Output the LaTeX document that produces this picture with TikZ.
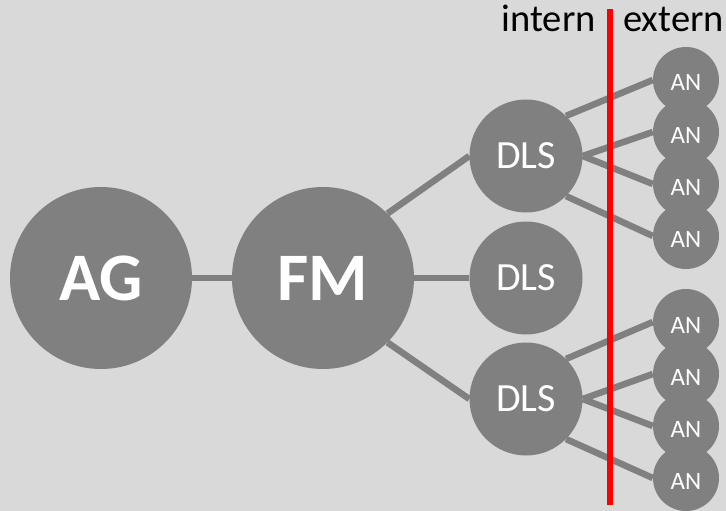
\documentclass[tikz,border=0pt]{standalone}
\usepackage{fontspec}
\setmainfont{Carlito}
\usetikzlibrary{backgrounds}
\definecolor{bgcol}{HTML}{D9D9D9}
\definecolor{nodecol}{HTML}{808080}
\tikzset{
  unit/.style={circle, fill=nodecol, draw=none, inner sep=0pt, text=white},
  agnode/.style={unit, minimum size=182pt, font=\fontsize{68}{70}\selectfont\bfseries},
  dlsnode/.style={unit, minimum size=113pt, font=\fontsize{40}{42}\selectfont},
  annode/.style={unit, minimum size=66pt, font=\fontsize{25}{27}\selectfont, text height=22pt, text depth=0pt},
  link/.style={draw=nodecol, line width=6.5pt},
  label/.style={inner sep=0pt, font=\fontsize{38.5}{40}\selectfont, text=black},
}
\begin{document}
\begin{tikzpicture}[x=1pt, y=-1pt]
  \useasboundingbox (0,0) rectangle (726,511);

  % main chain
  \node[agnode] (ag) at (101,278) {AG};
  \node[agnode] (fm) at (323,278) {FM};

  % distribution level
  \node[dlsnode] (d1) at (526,156) {DLS};
  \node[dlsnode] (d2) at (526,278) {DLS};
  \node[dlsnode] (d3) at (526,399) {DLS};

  % access nodes, upper group
  \node[annode] (a1) at (686,80) {AN};
  \node[annode] (a2) at (686,132) {AN};
  \node[annode] (a3) at (686,184) {AN};
  \node[annode] (a4) at (686,236) {AN};
  % access nodes, lower group
  \node[annode] (b1) at (686,322) {AN};
  \node[annode] (b2) at (686,374) {AN};
  \node[annode] (b3) at (686,426) {AN};
  \node[annode] (b4) at (686,478) {AN};

  \begin{scope}[on background layer]
    \fill[bgcol] (0,0) rectangle (726,511);
    \draw[link] (ag.east) -- (fm.west);
    \draw[link] (fm.north east) -- (d1.west);
    \draw[link] (fm.east) -- (d2.west);
    \draw[link] (fm.south east) -- (d3.west);
    \draw[link] (d1.north east) -- (a1.west);
    \draw[link] (d1.east) -- (a2.west);
    \draw[link] (d1.east) -- (a3.west);
    \draw[link] (d1.south east) -- (a4.west);
    \draw[link] (d3.north east) -- (b1.west);
    \draw[link] (d3.east) -- (b2.west);
    \draw[link] (d3.east) -- (b3.west);
    \draw[link] (d3.south east) -- (b4.west);
  \end{scope}

  % boundary between internal and external
  \coordinate (bt) at (610,9);
  \coordinate (bb) at (610,505);
  \draw[red, line width=6pt] (bt) -- (bb);
  \node[label, anchor=base east] (intern) at (596,32) {intern};
  \node[label, anchor=base west] (extern) at (623,32) {extern};
\end{tikzpicture}
\end{document}
